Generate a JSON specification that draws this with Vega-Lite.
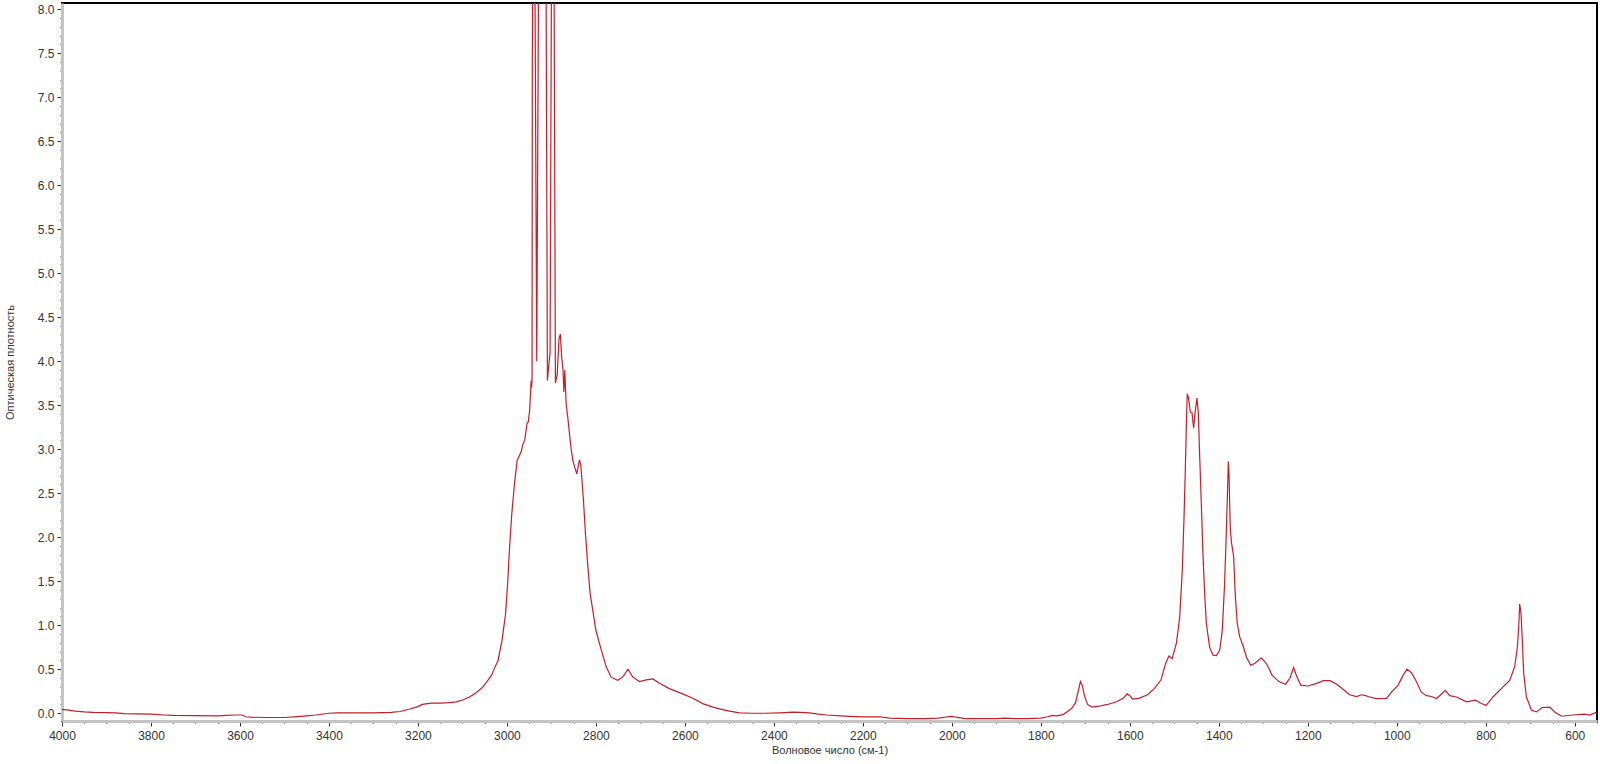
{
  "$schema": "https://vega.github.io/schema/vega-lite/v6.json",
  "width": 1535,
  "height": 718,
  "autosize": {"type": "none"},
  "padding": {"left": 62, "top": 3, "right": 3, "bottom": 43},
  "background": "white",
  "config": {
    "view": {"stroke": "black", "strokeWidth": 2},
    "font": "Liberation Sans"
  },
  "data": {"values": [
    {"wn": 4000, "a": 0.045}, {"wn": 3985, "a": 0.035}, {"wn": 3970, "a": 0.025}, {"wn": 3950, "a": 0.015},
    {"wn": 3930, "a": 0.01}, {"wn": 3900, "a": 0.008}, {"wn": 3880, "a": 0.005}, {"wn": 3860, "a": -0.005},
    {"wn": 3830, "a": -0.008}, {"wn": 3800, "a": -0.01}, {"wn": 3770, "a": -0.02}, {"wn": 3750, "a": -0.025},
    {"wn": 3700, "a": -0.028}, {"wn": 3650, "a": -0.03}, {"wn": 3630, "a": -0.025}, {"wn": 3610, "a": -0.02},
    {"wn": 3595, "a": -0.02}, {"wn": 3588, "a": -0.04}, {"wn": 3575, "a": -0.045}, {"wn": 3540, "a": -0.048},
    {"wn": 3500, "a": -0.048}, {"wn": 3470, "a": -0.038}, {"wn": 3450, "a": -0.03}, {"wn": 3430, "a": -0.02},
    {"wn": 3400, "a": 0.0}, {"wn": 3380, "a": 0.005}, {"wn": 3350, "a": 0.005}, {"wn": 3300, "a": 0.005},
    {"wn": 3260, "a": 0.01}, {"wn": 3240, "a": 0.02}, {"wn": 3220, "a": 0.045}, {"wn": 3200, "a": 0.075},
    {"wn": 3190, "a": 0.1}, {"wn": 3170, "a": 0.115}, {"wn": 3150, "a": 0.115}, {"wn": 3130, "a": 0.12},
    {"wn": 3114, "a": 0.13}, {"wn": 3100, "a": 0.15}, {"wn": 3084, "a": 0.185}, {"wn": 3070, "a": 0.23},
    {"wn": 3054, "a": 0.3}, {"wn": 3045, "a": 0.36}, {"wn": 3035, "a": 0.43}, {"wn": 3028, "a": 0.51},
    {"wn": 3020, "a": 0.6}, {"wn": 3011, "a": 0.83}, {"wn": 3003, "a": 1.13}, {"wn": 2998, "a": 1.51},
    {"wn": 2994, "a": 1.89}, {"wn": 2989, "a": 2.27}, {"wn": 2983, "a": 2.61}, {"wn": 2977, "a": 2.875},
    {"wn": 2968, "a": 2.97}, {"wn": 2964, "a": 3.06}, {"wn": 2960, "a": 3.1}, {"wn": 2955, "a": 3.29},
    {"wn": 2952, "a": 3.31}, {"wn": 2949, "a": 3.44}, {"wn": 2947, "a": 3.63}, {"wn": 2945.5, "a": 3.78},
    {"wn": 2944.5, "a": 3.7}, {"wn": 2943.5, "a": 3.8}, {"wn": 2943, "a": 7.4}, {"wn": 2942, "a": 8.3},
    {"wn": 2937, "a": 8.3}, {"wn": 2933, "a": 4.0}, {"wn": 2929, "a": 8.3}, {"wn": 2912, "a": 8.3},
    {"wn": 2909, "a": 3.78}, {"wn": 2906, "a": 3.95}, {"wn": 2903, "a": 4.1}, {"wn": 2900, "a": 8.3},
    {"wn": 2894, "a": 8.3}, {"wn": 2891, "a": 3.75}, {"wn": 2887, "a": 3.85}, {"wn": 2883, "a": 4.25},
    {"wn": 2880, "a": 4.31}, {"wn": 2877, "a": 4.05}, {"wn": 2874, "a": 3.9}, {"wn": 2872, "a": 3.65},
    {"wn": 2870, "a": 3.9}, {"wn": 2867, "a": 3.52}, {"wn": 2863, "a": 3.35}, {"wn": 2859.5, "a": 3.18},
    {"wn": 2856, "a": 3.02}, {"wn": 2852, "a": 2.875}, {"wn": 2848, "a": 2.8}, {"wn": 2843, "a": 2.72},
    {"wn": 2840, "a": 2.8}, {"wn": 2837, "a": 2.88}, {"wn": 2834, "a": 2.82}, {"wn": 2832, "a": 2.69},
    {"wn": 2828, "a": 2.42}, {"wn": 2823.5, "a": 2.04}, {"wn": 2818, "a": 1.66}, {"wn": 2813, "a": 1.36},
    {"wn": 2807, "a": 1.17}, {"wn": 2800, "a": 0.94}, {"wn": 2788, "a": 0.72}, {"wn": 2777, "a": 0.53},
    {"wn": 2766, "a": 0.41}, {"wn": 2751, "a": 0.375}, {"wn": 2740, "a": 0.41}, {"wn": 2728, "a": 0.5},
    {"wn": 2717, "a": 0.41}, {"wn": 2702, "a": 0.36}, {"wn": 2687, "a": 0.38}, {"wn": 2672, "a": 0.39},
    {"wn": 2657, "a": 0.34}, {"wn": 2635, "a": 0.28}, {"wn": 2605, "a": 0.22}, {"wn": 2582, "a": 0.17},
    {"wn": 2560, "a": 0.11}, {"wn": 2537, "a": 0.07}, {"wn": 2522, "a": 0.05}, {"wn": 2500, "a": 0.025},
    {"wn": 2477, "a": 0.005}, {"wn": 2450, "a": 0.0}, {"wn": 2420, "a": 0.0}, {"wn": 2387, "a": 0.005},
    {"wn": 2357, "a": 0.012}, {"wn": 2340, "a": 0.01}, {"wn": 2320, "a": 0.005}, {"wn": 2300, "a": -0.01},
    {"wn": 2282, "a": -0.02}, {"wn": 2250, "a": -0.03}, {"wn": 2230, "a": -0.035}, {"wn": 2200, "a": -0.04},
    {"wn": 2162, "a": -0.04}, {"wn": 2140, "a": -0.055}, {"wn": 2100, "a": -0.06}, {"wn": 2060, "a": -0.06},
    {"wn": 2030, "a": -0.055}, {"wn": 2010, "a": -0.04}, {"wn": 2000, "a": -0.035}, {"wn": 1990, "a": -0.045},
    {"wn": 1970, "a": -0.06}, {"wn": 1940, "a": -0.06}, {"wn": 1900, "a": -0.06}, {"wn": 1880, "a": -0.055},
    {"wn": 1860, "a": -0.06}, {"wn": 1830, "a": -0.06}, {"wn": 1800, "a": -0.055}, {"wn": 1785, "a": -0.04},
    {"wn": 1775, "a": -0.025}, {"wn": 1765, "a": -0.03}, {"wn": 1750, "a": -0.015}, {"wn": 1740, "a": 0.02},
    {"wn": 1730, "a": 0.06}, {"wn": 1722, "a": 0.12}, {"wn": 1716, "a": 0.25}, {"wn": 1711, "a": 0.36},
    {"wn": 1707, "a": 0.32}, {"wn": 1702, "a": 0.2}, {"wn": 1695, "a": 0.1}, {"wn": 1685, "a": 0.07},
    {"wn": 1670, "a": 0.08}, {"wn": 1650, "a": 0.1}, {"wn": 1630, "a": 0.13}, {"wn": 1615, "a": 0.17},
    {"wn": 1606, "a": 0.22}, {"wn": 1600, "a": 0.2}, {"wn": 1594, "a": 0.16}, {"wn": 1580, "a": 0.17},
    {"wn": 1560, "a": 0.21}, {"wn": 1545, "a": 0.28}, {"wn": 1530, "a": 0.38}, {"wn": 1519.6, "a": 0.565},
    {"wn": 1512, "a": 0.65}, {"wn": 1505, "a": 0.62}, {"wn": 1495.5, "a": 0.79}, {"wn": 1488, "a": 1.09},
    {"wn": 1482, "a": 1.63}, {"wn": 1478.4, "a": 2.19}, {"wn": 1475.3, "a": 2.76}, {"wn": 1472.3, "a": 3.41},
    {"wn": 1470.8, "a": 3.63}, {"wn": 1468, "a": 3.58}, {"wn": 1464, "a": 3.42}, {"wn": 1460.4, "a": 3.42},
    {"wn": 1456.6, "a": 3.24}, {"wn": 1452.8, "a": 3.44}, {"wn": 1449, "a": 3.58}, {"wn": 1446, "a": 3.41},
    {"wn": 1443.2, "a": 2.95}, {"wn": 1439.3, "a": 2.38}, {"wn": 1435.7, "a": 1.81}, {"wn": 1431.8, "a": 1.36},
    {"wn": 1428, "a": 1.02}, {"wn": 1420.6, "a": 0.75}, {"wn": 1413, "a": 0.66}, {"wn": 1405.6, "a": 0.655},
    {"wn": 1398, "a": 0.716}, {"wn": 1392.2, "a": 0.94}, {"wn": 1387, "a": 1.47}, {"wn": 1383, "a": 2.08},
    {"wn": 1380.2, "a": 2.57}, {"wn": 1378.6, "a": 2.86}, {"wn": 1377, "a": 2.71}, {"wn": 1375.6, "a": 2.38},
    {"wn": 1374, "a": 2.08}, {"wn": 1371.2, "a": 1.93}, {"wn": 1366.7, "a": 1.78}, {"wn": 1362.8, "a": 1.32},
    {"wn": 1358.5, "a": 1.02}, {"wn": 1353.2, "a": 0.87}, {"wn": 1345.7, "a": 0.77}, {"wn": 1338, "a": 0.64},
    {"wn": 1328.5, "a": 0.545}, {"wn": 1319.5, "a": 0.565}, {"wn": 1304.5, "a": 0.63}, {"wn": 1293, "a": 0.565},
    {"wn": 1280, "a": 0.43}, {"wn": 1265, "a": 0.36}, {"wn": 1250, "a": 0.33}, {"wn": 1240, "a": 0.4},
    {"wn": 1232, "a": 0.52}, {"wn": 1225, "a": 0.42}, {"wn": 1216, "a": 0.32}, {"wn": 1200, "a": 0.31},
    {"wn": 1180, "a": 0.34}, {"wn": 1165, "a": 0.37}, {"wn": 1150, "a": 0.37}, {"wn": 1135, "a": 0.33},
    {"wn": 1120, "a": 0.27}, {"wn": 1106, "a": 0.21}, {"wn": 1090, "a": 0.19}, {"wn": 1080, "a": 0.21},
    {"wn": 1070, "a": 0.2}, {"wn": 1061, "a": 0.185}, {"wn": 1046, "a": 0.167}, {"wn": 1023, "a": 0.17},
    {"wn": 1012, "a": 0.24}, {"wn": 997, "a": 0.32}, {"wn": 986, "a": 0.43}, {"wn": 977, "a": 0.5},
    {"wn": 967, "a": 0.46}, {"wn": 956, "a": 0.36}, {"wn": 945, "a": 0.24}, {"wn": 933, "a": 0.2},
    {"wn": 922, "a": 0.19}, {"wn": 911, "a": 0.167}, {"wn": 900, "a": 0.216}, {"wn": 891, "a": 0.26},
    {"wn": 881, "a": 0.2}, {"wn": 866, "a": 0.185}, {"wn": 843, "a": 0.13}, {"wn": 823, "a": 0.148},
    {"wn": 810, "a": 0.11}, {"wn": 799, "a": 0.09}, {"wn": 784, "a": 0.185}, {"wn": 765, "a": 0.28},
    {"wn": 746, "a": 0.375}, {"wn": 735, "a": 0.53}, {"wn": 729, "a": 0.75}, {"wn": 726, "a": 0.98},
    {"wn": 723.7, "a": 1.24}, {"wn": 720.7, "a": 1.13}, {"wn": 717.6, "a": 0.79}, {"wn": 714.7, "a": 0.45},
    {"wn": 708.7, "a": 0.185}, {"wn": 697.4, "a": 0.034}, {"wn": 686, "a": 0.015}, {"wn": 673, "a": 0.065},
    {"wn": 656, "a": 0.07}, {"wn": 645, "a": 0.015}, {"wn": 630, "a": -0.034}, {"wn": 604, "a": -0.02},
    {"wn": 578, "a": -0.01}, {"wn": 566, "a": -0.02}, {"wn": 551, "a": 0.015}
  ]},
  "mark": {"type": "line", "color": "#c41e2a", "strokeWidth": 1.2, "clip": true},
  "encoding": {
    "x": {
      "field": "wn", "type": "quantitative", "sort": null,
      "scale": {"domain": [550, 4000], "reverse": true, "nice": false, "zero": false},
      "axis": {
        "title": "Волновое число (см-1)",
        "values": [4000,3950,3900,3850,3800,3750,3700,3650,3600,3550,3500,3450,3400,3350,3300,3250,3200,3150,3100,3050,3000,2950,2900,2850,2800,2750,2700,2650,2600,2550,2500,2450,2400,2350,2300,2250,2200,2150,2100,2050,2000,1950,1900,1850,1800,1750,1700,1650,1600,1550,1500,1450,1400,1350,1300,1250,1200,1150,1100,1050,1000,950,900,850,800,750,700,650,600,550],
        "labelExpr": "datum.value % 200 == 0 ? format(datum.value, 'd') : ''",
        "labelOverlap": false, "labelFlush": false,
        "tickSize": {"condition": {"test": "datum.value % 200 == 0", "value": 5}, "value": 2},
        "tickColor": "#333333", "tickWidth": 1,
        "domainColor": "#c4c4c4", "domainWidth": 3,
        "labelFont": "Liberation Sans", "labelFontSize": 12, "labelColor": "#333333", "labelPadding": 4,
        "titleFont": "Liberation Sans", "titleFontSize": 11, "titleFontWeight": "normal", "titleColor": "#333333", "titlePadding": 3,
        "grid": false
      }
    },
    "y": {
      "field": "a", "type": "quantitative",
      "scale": {"domain": [-0.088, 8.07], "nice": false, "zero": false},
      "axis": {
        "title": "Оптическая плотность",
        "values": [0,0.1,0.2,0.3,0.4,0.5,0.6,0.7,0.8,0.9,1,1.1,1.2,1.3,1.4,1.5,1.6,1.7,1.8,1.9,2,2.1,2.2,2.3,2.4,2.5,2.6,2.7,2.8,2.9,3,3.1,3.2,3.3,3.4,3.5,3.6,3.7,3.8,3.9,4,4.1,4.2,4.3,4.4,4.5,4.6,4.7,4.8,4.9,5,5.1,5.2,5.3,5.4,5.5,5.6,5.7,5.8,5.9,6,6.1,6.2,6.3,6.4,6.5,6.6,6.7,6.8,6.9,7,7.1,7.2,7.3,7.4,7.5,7.6,7.7,7.8,7.9,8],
        "labelExpr": "round(datum.value*10) % 5 == 0 ? format(datum.value, '.1f') : ''",
        "labelOverlap": false, "labelFlush": false,
        "tickSize": {"condition": {"test": "round(datum.value*10) % 5 == 0", "value": 5}, "value": 2},
        "tickColor": "#333333", "tickWidth": 1,
        "domainColor": "#c4c4c4", "domainWidth": 3,
        "labelFont": "Liberation Sans", "labelFontSize": 12, "labelColor": "#333333", "labelPadding": 3,
        "titleFont": "Liberation Sans", "titleFontSize": 11, "titleFontWeight": "normal", "titleColor": "#333333", "titlePadding": 22,
        "grid": false
      }
    }
  }
}
